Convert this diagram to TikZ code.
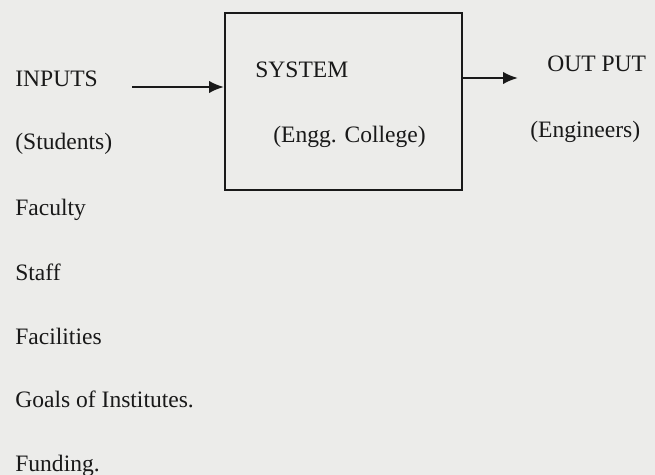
\documentclass[tikz,border=0pt]{standalone}
\usepackage{fontspec}
\setmainfont{Liberation Serif}
\usetikzlibrary{arrows.meta}

\definecolor{paper}{RGB}{236,236,234}
\definecolor{ink}{RGB}{25,25,25}

\tikzset{
	lbl/.style={anchor=base west, inner sep=0pt, text=ink, font=\fontsize{13.4pt}{16pt}\selectfont},
	flow/.style={draw=ink, line width=1.2pt, -{Latex[length=0.3cm,width=0.25cm]}}
}

\begin{document}
\begin{tikzpicture}[x=0.02cm, y=-0.02cm]
		\fill[paper] (0,0) rectangle (655,475);
		\useasboundingbox (0,0) rectangle (655,475);
		
		% the system box
		\node[draw=ink, line width=1.2pt, minimum width=237*0.02cm, minimum height=177*0.02cm, anchor=north west, inner sep=0pt] (sys) at (224,12) {};
		\node[lbl] (sysname) at (255,78) {SYSTEM};
		\node[lbl] (college) at (273,143) {(Engg. College)};
		
		% input side
		\node[lbl] (inputs) at (15,87) {INPUTS};
		\node[lbl] (students) at (15,150) {(Students)};
		\coordinate (in) at (132,87);
		\draw[flow] (in) -- (sys.west |- in);
		
		% output side
		\node[lbl] (output) at (547,72) {OUT PUT};
		\node[lbl] (engineers) at (530,138) {(Engineers)};
		\coordinate (out) at (518,78);
		\draw[flow] (sys.east |- out) -- (out);
		
		% resources
		\node[lbl] (faculty) at (15,216) {Faculty};
		\node[lbl] (staff) at (15,281) {Staff};
		\node[lbl] (facilities) at (15,345) {Facilities};
		\node[lbl] (goals) at (15,408) {Goals of Institutes.};
		\node[lbl] (funding) at (15,471) {Funding.};
\end{tikzpicture}
\end{document}
